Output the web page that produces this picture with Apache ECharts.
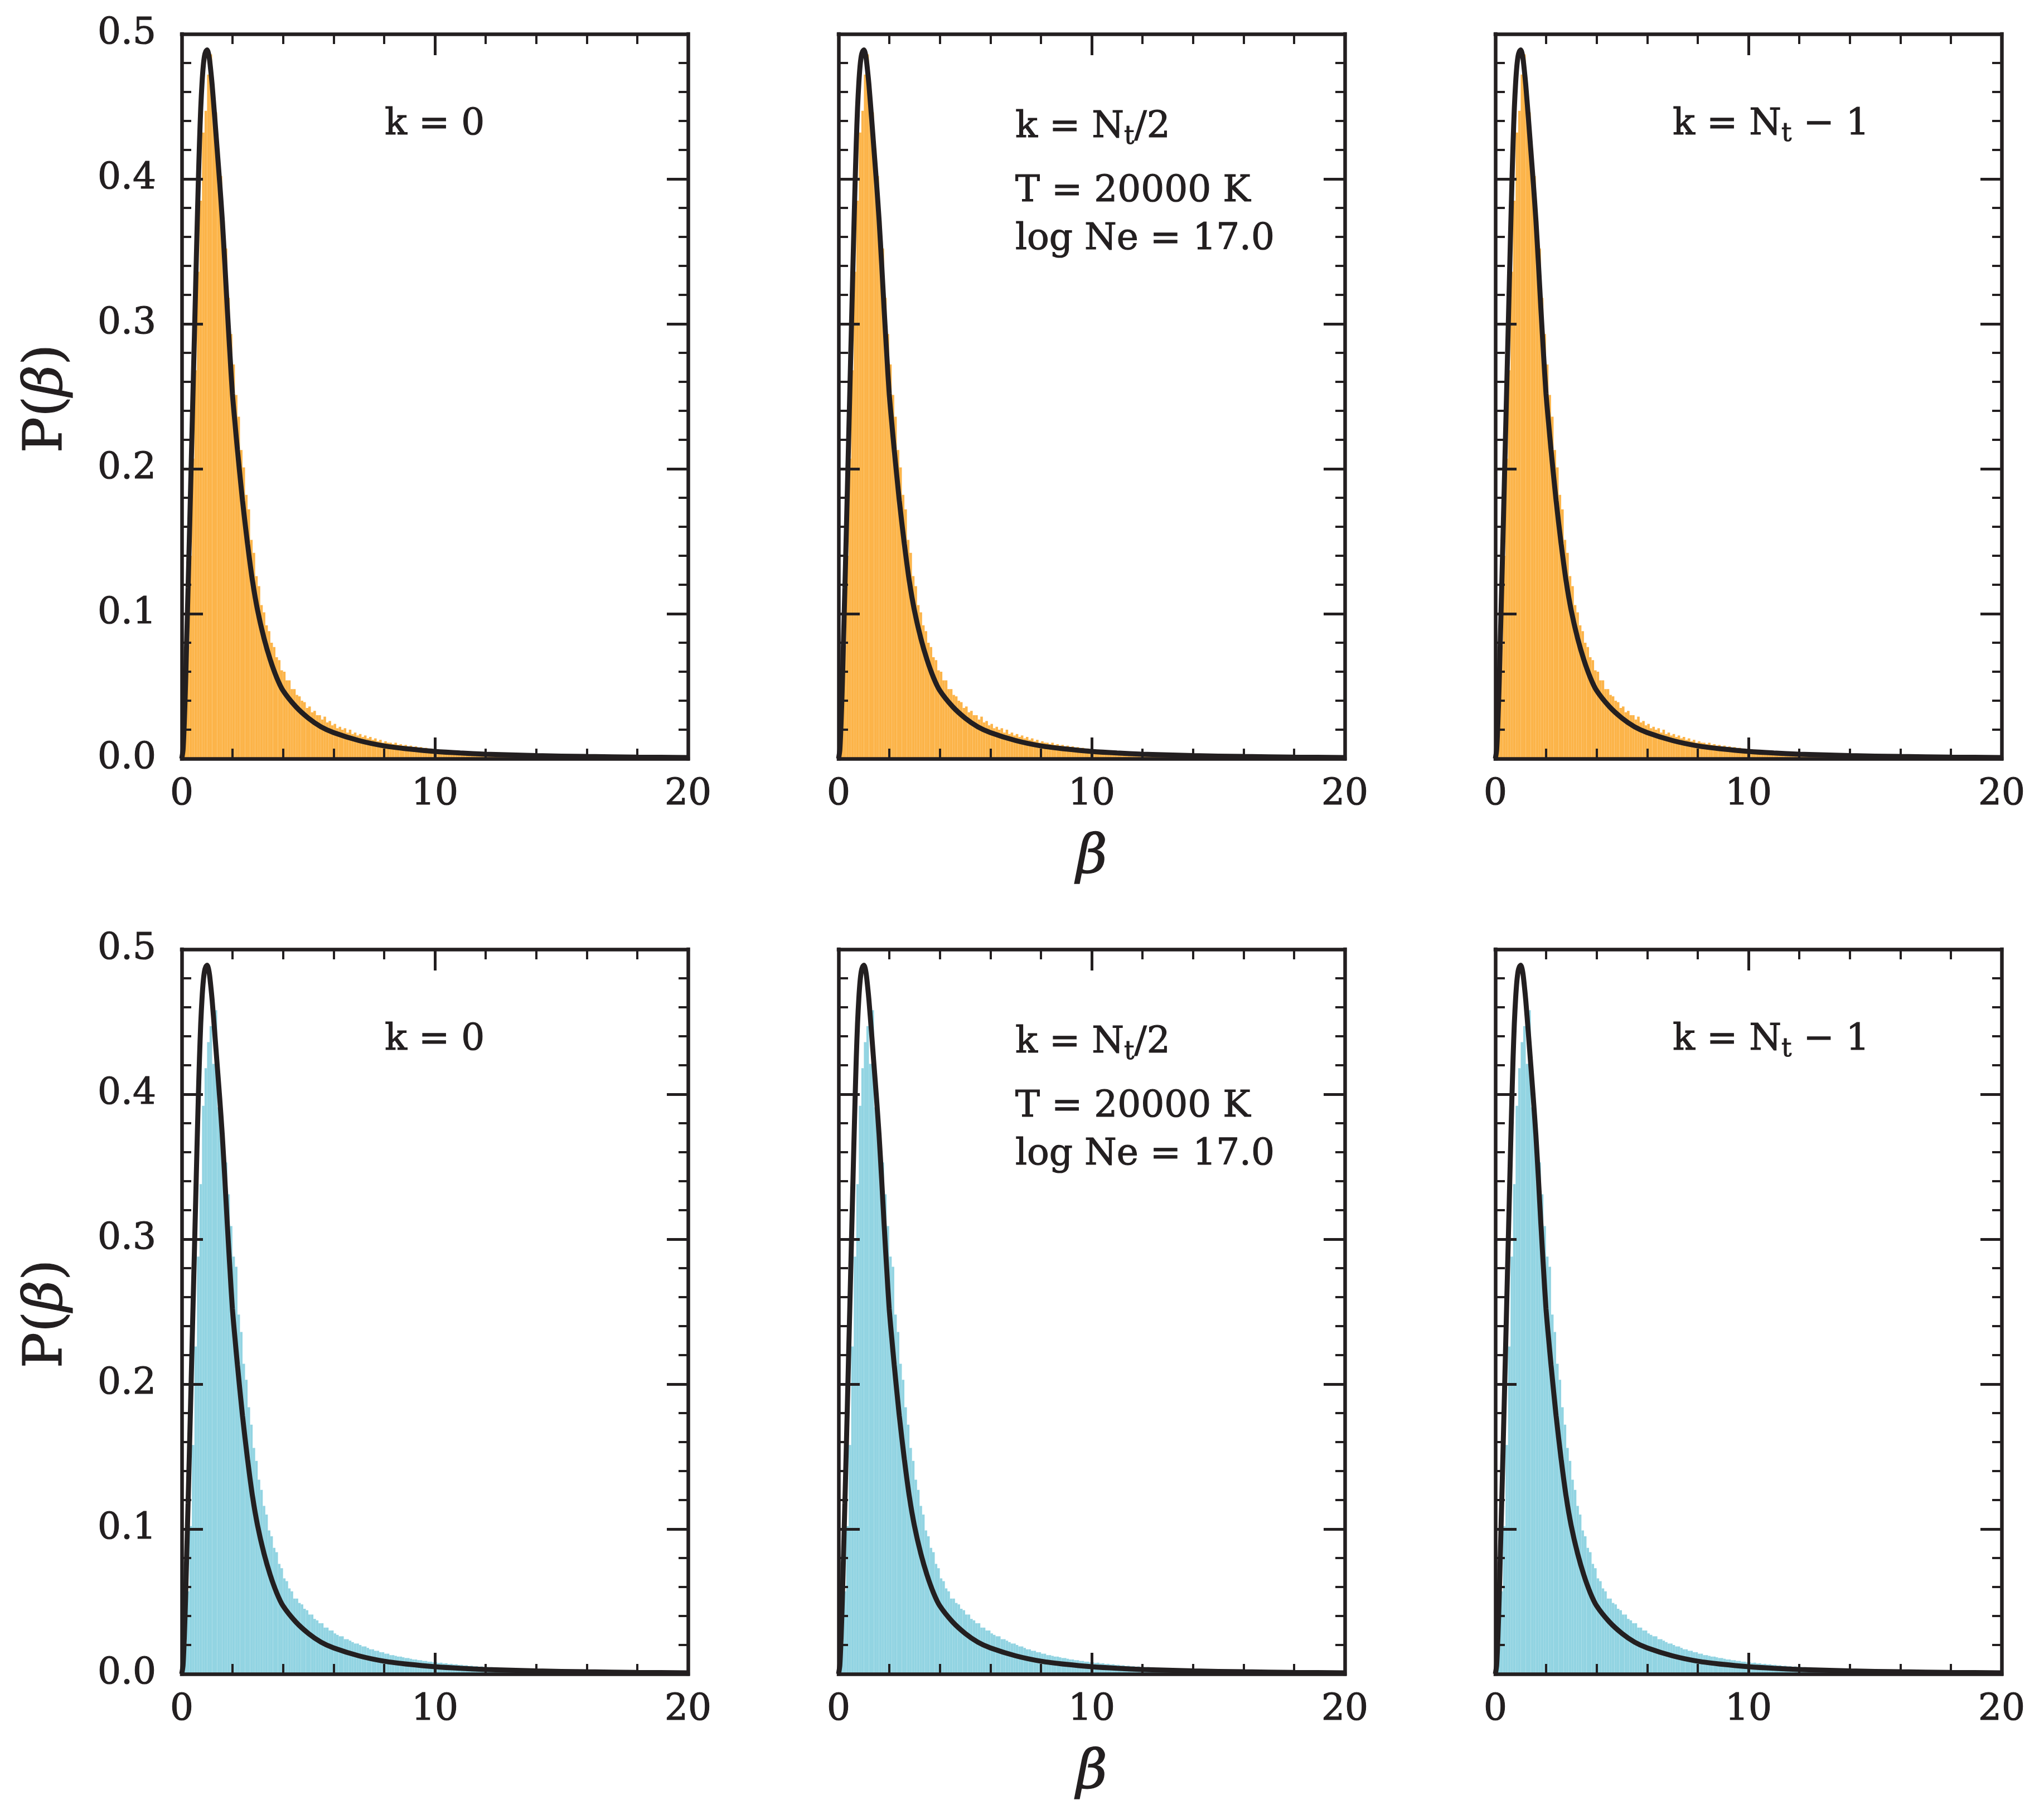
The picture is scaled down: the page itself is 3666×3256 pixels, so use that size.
<!DOCTYPE html>
<html>
<head>
<meta charset="utf-8">
<script src="https://cdn.jsdelivr.net/npm/echarts@6/dist/echarts.min.js"></script>
<style>
  html, body { margin: 0; padding: 0; background: #fff; }
  #chart { width: 3666px; height: 3256px; }
</style>
</head>
<body>
<div id="chart"></div>
<script>
(function () {
  'use strict';

  // ---- data ----
  // histogram bins: width 0.1 in beta, from 0 to 20
  var binWidth = 0.1;

  var histTop = [
    0.004, 0.028, 0.078, 0.140, 0.207, 0.268, 0.336, 0.385, 0.432, 0.447,
    0.472, 0.486, 0.458, 0.446, 0.421, 0.402, 0.371, 0.352, 0.318, 0.293,
    0.272, 0.251, 0.236, 0.213, 0.201, 0.182, 0.172, 0.151, 0.142, 0.126,
    0.119, 0.106, 0.101, 0.092, 0.088, 0.080, 0.077, 0.070, 0.068, 0.061,
    0.060, 0.054, 0.054, 0.048, 0.048, 0.044, 0.043, 0.040, 0.039, 0.035,
    0.036, 0.032, 0.033, 0.030, 0.030, 0.027, 0.029, 0.025, 0.026, 0.023,
    0.024, 0.021, 0.022, 0.020, 0.021, 0.018, 0.020, 0.017, 0.018, 0.016,
    0.017, 0.015, 0.016, 0.014, 0.015, 0.013, 0.014, 0.012, 0.013, 0.011,
    0.012, 0.011, 0.011, 0.010, 0.011, 0.0095, 0.010, 0.009, 0.0095, 0.0085,
    0.009, 0.008, 0.0085, 0.0075, 0.008, 0.007, 0.0075, 0.0068, 0.007, 0.0062,
    0.0065, 0.0058, 0.0062, 0.0055, 0.0058, 0.0052, 0.0056, 0.005, 0.0053, 0.0047,
    0.005, 0.0045, 0.0048, 0.0042, 0.0046, 0.004, 0.0044, 0.0038, 0.0042, 0.0036,
    0.004, 0.0034, 0.0038, 0.0033, 0.0036, 0.0031, 0.0035, 0.003, 0.0033, 0.0029,
    0.0032, 0.0027, 0.003, 0.0026, 0.0029, 0.0025, 0.0028, 0.0024, 0.0027, 0.0023,
    0.0026, 0.0022, 0.0025, 0.0021, 0.0024, 0.002, 0.0023, 0.002, 0.0022, 0.0019,
    0.0021, 0.0018, 0.002, 0.0017, 0.0022, 0.0016, 0.0019, 0.0016, 0.0018, 0.0015,
    0.0017, 0.0015, 0.0016, 0.0014, 0.0019, 0.0013, 0.0015, 0.0013, 0.0014, 0.0012,
    0.0014, 0.0012, 0.0013, 0.0011, 0.0016, 0.0011, 0.0012, 0.001, 0.0012, 0.001,
    0.0011, 0.001, 0.0011, 0.0009, 0.001, 0.0009, 0.001, 0.0008, 0.0009, 0.0008,
    0.0009, 0.0008, 0.0009, 0.0007, 0.0008, 0.0007, 0.0008, 0.0006, 0.0007, 0.0006
  ];

  var histBottom = [
    0.003, 0.021, 0.057, 0.102, 0.158, 0.226, 0.288, 0.338, 0.392, 0.418,
    0.436, 0.447, 0.421, 0.458, 0.391, 0.372, 0.358, 0.353, 0.331, 0.309,
    0.288, 0.281, 0.248, 0.236, 0.214, 0.203, 0.184, 0.172, 0.156, 0.147,
    0.134, 0.127, 0.116, 0.110, 0.099, 0.095, 0.087, 0.084, 0.076, 0.073,
    0.066, 0.064, 0.059, 0.057, 0.052, 0.052, 0.049, 0.048, 0.045, 0.044,
    0.041, 0.041, 0.038, 0.037, 0.035, 0.035, 0.032, 0.032, 0.030, 0.030,
    0.028, 0.027, 0.026, 0.026, 0.024, 0.024, 0.023, 0.022, 0.021, 0.021,
    0.020, 0.019, 0.019, 0.018, 0.017, 0.017, 0.016, 0.016, 0.015, 0.015,
    0.014, 0.014, 0.013, 0.013, 0.0125, 0.012, 0.012, 0.0115, 0.011, 0.011,
    0.0105, 0.010, 0.010, 0.0095, 0.0095, 0.009, 0.009, 0.0085, 0.0085, 0.008,
    0.008, 0.0076, 0.0078, 0.0072, 0.0074, 0.0068, 0.007, 0.0065, 0.0067, 0.0062,
    0.0063, 0.0058, 0.006, 0.0055, 0.0057, 0.0052, 0.0054, 0.005, 0.0052, 0.0047,
    0.0049, 0.0045, 0.0047, 0.0043, 0.0045, 0.0041, 0.0043, 0.0039, 0.0041, 0.0037,
    0.0039, 0.0035, 0.0037, 0.0034, 0.0035, 0.0032, 0.0034, 0.003, 0.0032, 0.0029,
    0.0031, 0.0028, 0.0029, 0.0027, 0.0028, 0.0025, 0.0027, 0.0024, 0.0026, 0.0023,
    0.0025, 0.0022, 0.0024, 0.0021, 0.0023, 0.002, 0.0022, 0.0019, 0.0021, 0.0018,
    0.002, 0.0018, 0.0019, 0.0017, 0.0018, 0.0016, 0.0017, 0.0015, 0.0017, 0.0014,
    0.0016, 0.0014, 0.0015, 0.0013, 0.0015, 0.0012, 0.0014, 0.0012, 0.0013, 0.0011,
    0.0013, 0.0011, 0.0012, 0.001, 0.0012, 0.001, 0.0011, 0.0009, 0.001, 0.0009,
    0.001, 0.0009, 0.0009, 0.0008, 0.0009, 0.0008, 0.0008, 0.0007, 0.0008, 0.0007
  ];

  // theoretical P(beta) curve, same in all panels
  var curveBeta = [
    0, 0.05, 0.1, 0.15, 0.2, 0.25, 0.3, 0.35, 0.4, 0.45,
    0.5, 0.55, 0.6, 0.65, 0.7, 0.75, 0.8, 0.85, 0.9, 0.95,
    1.0, 1.05, 1.1, 1.15, 1.2, 1.3, 1.4, 1.5, 1.6, 1.7,
    1.8, 1.9, 2.0, 2.1, 2.2, 2.4, 2.6, 2.8, 3.0, 3.25,
    3.5, 3.75, 4.0, 4.5, 5.0, 5.5, 6.0, 7.0, 8.0, 9.0,
    10, 11, 12, 14, 16, 18, 20
  ];
  var curveP = [
    0, 0.006, 0.025, 0.052, 0.085, 0.118, 0.152, 0.187, 0.222, 0.257,
    0.292, 0.327, 0.362, 0.395, 0.425, 0.449, 0.466, 0.478, 0.485, 0.488,
    0.489, 0.487, 0.482, 0.474, 0.465, 0.443, 0.420, 0.397, 0.372, 0.342,
    0.310, 0.280, 0.252, 0.232, 0.213, 0.178, 0.148, 0.122, 0.102, 0.083,
    0.068, 0.056, 0.047, 0.036, 0.028, 0.022, 0.018, 0.0125, 0.0088, 0.0066,
    0.005, 0.0039, 0.0031, 0.0021, 0.0015, 0.0011, 0.0008
  ];

  var xTicks = { min: 0, max: 20, interval: 10 };
  var yTicks = { min: 0, max: 0.5, interval: 0.1 };

  var panelText = [
    ['{n|k = 0}'],
    ['{n|k = N}{s|t}{n|/2}', '{n|T = 20000 K}', '{n|log Ne = 17.0}'],
    ['{n|k = N}{s|t}{n| \u2212 1}']
  ];

  // ---- layout / style ----
  var ink = '#231f20';
  var fillTop = '#fcb449';
  var fillBottom = '#92d4e2';
  var font = '"DejaVu Serif", "Liberation Serif", serif';

  var colLeft = [326, 1504, 2682];
  var rowTop = [61, 1703];
  var plotW = 908;
  var plotH = 1300;

  var chart = echarts.init(document.getElementById('chart'), null, { renderer: 'canvas' });

  function histData(arr) {
    return arr.map(function (v, i) {
      return [i * binWidth, (i + 1) * binWidth, v];
    });
  }

  function makeHistRender(color) {
    return function (params, api) {
      var p0 = api.coord([api.value(0), api.value(2)]);
      var p1 = api.coord([api.value(1), 0]);
      return {
        type: 'rect',
        shape: { x: p0[0], y: p0[1], width: p1[0] - p0[0], height: p1[1] - p0[1] },
        style: { fill: color, stroke: null }
      };
    };
  }

  var curveData = curveBeta.map(function (b, i) { return [b, curveP[i]]; });

  var grids = [], xAxes = [], yAxes = [], series = [], graphics = [];

  function axisCommon(showLabel, isX) {
    return {
      type: 'value',
      min: isX ? xTicks.min : yTicks.min,
      max: isX ? xTicks.max : yTicks.max,
      interval: isX ? xTicks.interval : yTicks.interval,
      z: 10,
      axisLine: { show: true, onZero: false, lineStyle: { color: ink, width: 6.5, cap: 'square' } },
      axisTick: { show: true, inside: true, length: 38, lineStyle: { color: ink, width: 5 } },
      minorTick: { show: true, splitNumber: 5, length: isX ? 18 : 17, lineStyle: { color: ink, width: 4 } },
      splitLine: { show: false },
      minorSplitLine: { show: false },
      axisLabel: {
        show: showLabel,
        color: ink,
        fontFamily: font,
        fontSize: 66,
        textBorderColor: ink,
        textBorderWidth: 1.2,
        margin: isX ? 32 : 46,
        formatter: isX ? function (v) { return String(v); } : function (v) { return v.toFixed(1); }
      }
    };
  }

  var richStyle = {
    n: { fontFamily: font, fontSize: 66, lineHeight: 80, fill: ink, color: ink, stroke: ink, lineWidth: 1.2 },
    s: { fontFamily: font, fontSize: 46, lineHeight: 45, verticalAlign: 'bottom', fill: ink, color: ink, stroke: ink, lineWidth: 1 }
  };

  var textLeft = [690, 1821, 3000];
  var textY = [[224], [229, 344, 430], [224]];

  for (var r = 0; r < 2; r++) {
    for (var c = 0; c < 3; c++) {
      var g = grids.length;
      grids.push({ left: colLeft[c], top: rowTop[r], width: plotW, height: plotH, containLabel: false });

      var xb = axisCommon(true, true);
      xb.gridIndex = g; xb.position = 'bottom';
      var xt = axisCommon(false, true);
      xt.gridIndex = g; xt.position = 'top';
      xAxes.push(xb, xt);

      var yl = axisCommon(c === 0, false);
      yl.gridIndex = g; yl.position = 'left';
      var yr = axisCommon(false, false);
      yr.gridIndex = g; yr.position = 'right';
      yAxes.push(yl, yr);

      series.push({
        type: 'custom',
        xAxisIndex: 2 * g,
        yAxisIndex: 2 * g,
        renderItem: makeHistRender(r === 0 ? fillTop : fillBottom),
        encode: { x: [0, 1], y: 2 },
        data: histData(r === 0 ? histTop : histBottom),
        silent: true,
        z: 2
      });
      series.push({
        type: 'line',
        xAxisIndex: 2 * g,
        yAxisIndex: 2 * g,
        data: curveData,
        showSymbol: false,
        smooth: 0.25,
        lineStyle: { color: ink, width: 9 },
        silent: true,
        z: 5
      });

      panelText[c].forEach(function (txt, k) {
        graphics.push({
          type: 'text',
          x: textLeft[c],
          y: textY[c][k] + r * 1642,
          z: 20,
          style: {
            text: txt,
            rich: richStyle,
            fill: ink,
            align: 'left',
            verticalAlign: 'middle'
          }
        });
      });
    }

    // y axis name
    graphics.push({
      type: 'text',
      x: 85,
      y: 715 + r * 1642,
      rotation: Math.PI / 2,
      z: 20,
      style: {
        text: '{a|P(}{b|\u03b2}{a|)}',
        rich: {
          a: { fontFamily: font, fontSize: 96, fill: ink, color: ink, stroke: ink, lineWidth: 1.2 },
          b: { fontFamily: font, fontSize: 96, fontStyle: 'italic', fill: ink, color: ink, stroke: ink, lineWidth: 1.2 }
        },
        align: 'center',
        verticalAlign: 'middle'
      }
    });

    // x axis name
    graphics.push({
      type: 'text',
      x: 1958,
      y: 1540 + r * 1642,
      z: 20,
      style: {
        text: '\u03b2',
        font: 'italic 96px ' + font,
        fill: ink,
        stroke: ink,
        lineWidth: 1.5,
        align: 'center',
        verticalAlign: 'middle'
      }
    });
  }

  chart.setOption({
    backgroundColor: '#ffffff',
    animation: false,
    grid: grids,
    xAxis: xAxes,
    yAxis: yAxes,
    series: series,
    graphic: graphics
  });
})();
</script>
</body>
</html>
